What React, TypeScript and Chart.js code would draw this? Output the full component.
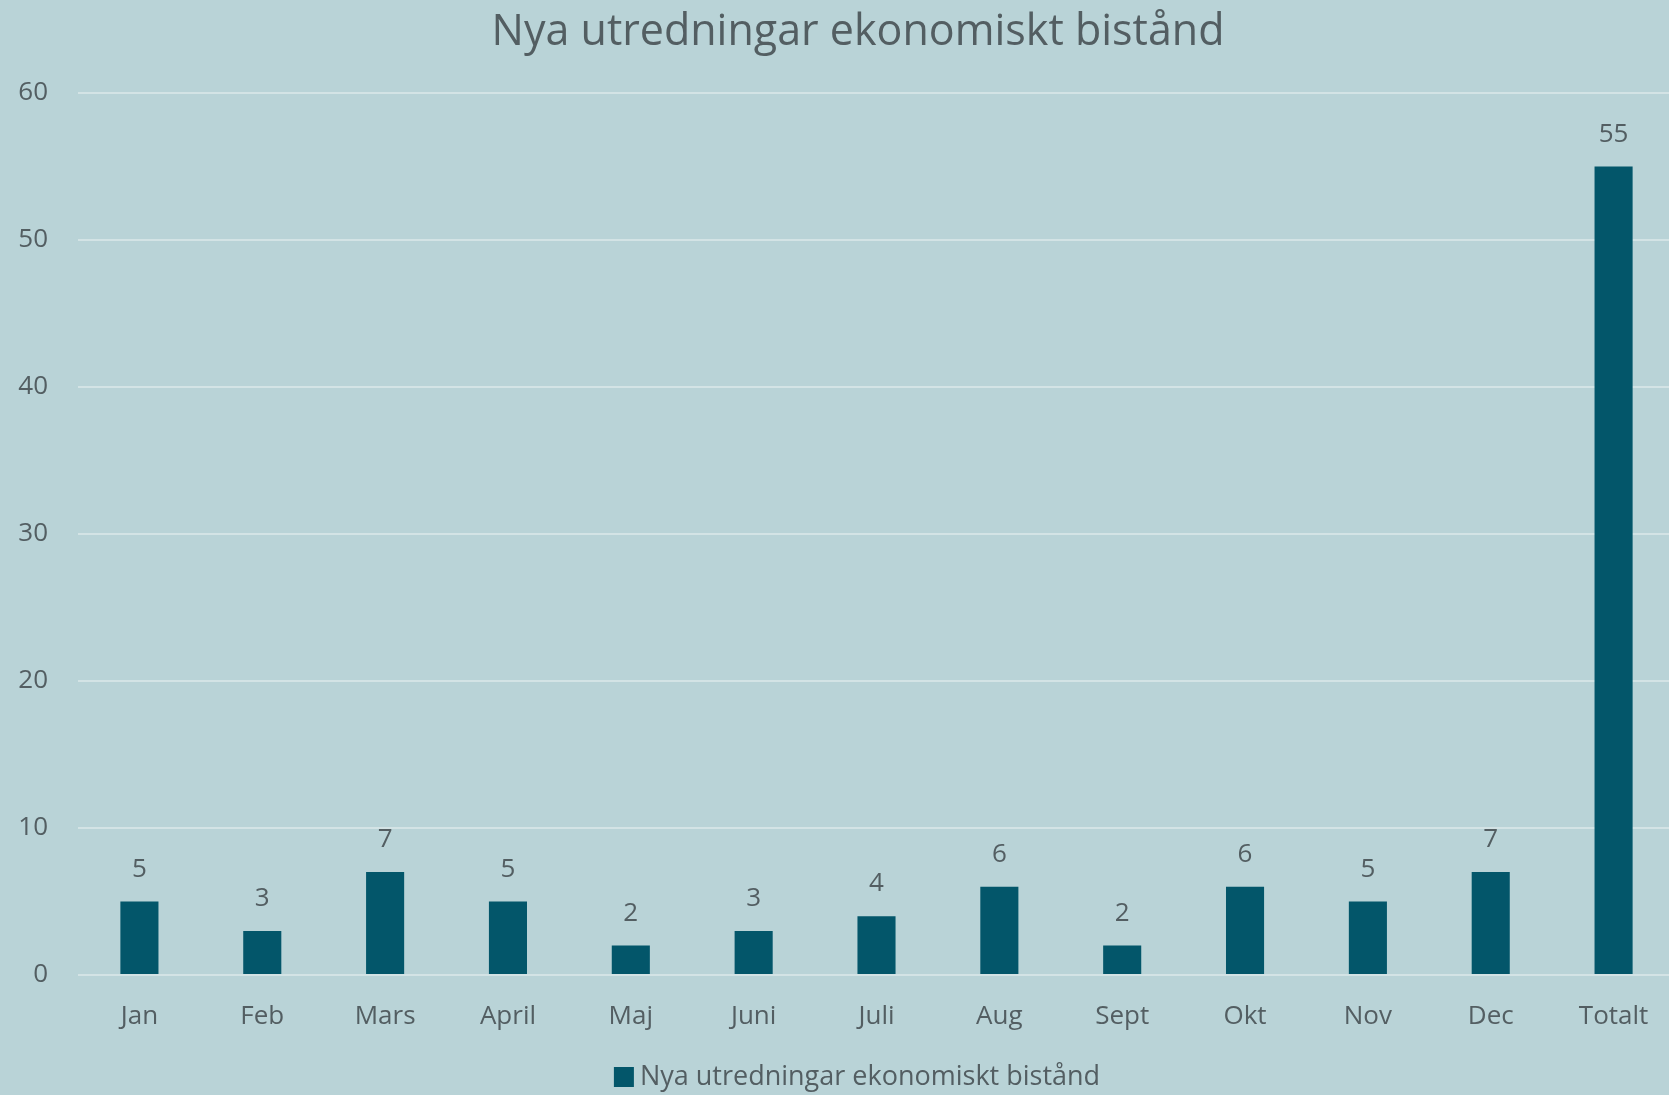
import React, { useEffect, useRef } from "react";
import { Chart, registerables } from "chart.js";

Chart.register(...registerables);

const categories = ["Jan", "Feb", "Mars", "April", "Maj", "Juni", "Juli", "Aug", "Sept", "Okt", "Nov", "Dec", "Totalt"];
const values = [5, 3, 7, 5, 2, 3, 4, 6, 2, 6, 5, 7, 55];
const seriesName = "Nya utredningar ekonomiskt bistånd";
const chartTitle = "Nya utredningar ekonomiskt bistånd";
const yMin = 0;
const yMax = 60;
const yStep = 10;

const BG = "#b9d3d7";
const BAR = "#03566a";
const TEXT = "#535e62";
const GRID = "#d3e3e5";
const FONT = "'Open Sans', Lato, sans-serif";

const CANVAS_W = 1712;
const CANVAS_H = 1095;
const CENTER_X = 857;

const valueLabels = {
  id: "valueLabels",
  afterDatasetsDraw(chart: any) {
    const ctx = chart.ctx;
    const meta = chart.getDatasetMeta(0);
    ctx.save();
    ctx.fillStyle = TEXT;
    ctx.font = `26px ${FONT}`;
    ctx.textAlign = "center";
    ctx.textBaseline = "alphabetic";
    meta.data.forEach((el: any, i: number) => {
      ctx.fillText(String(values[i]), el.x, el.y - 25);
    });
    ctx.restore();
  },
};

const titleAndLegend = {
  id: "titleAndLegend",
  afterDraw(chart: any) {
    const ctx = chart.ctx;
    ctx.save();
    // title
    ctx.fillStyle = TEXT;
    ctx.font = `43px ${FONT}`;
    ctx.textAlign = "center";
    ctx.textBaseline = "middle";
    ctx.fillText(chartTitle, CENTER_X + 1, 33);
    // legend
    ctx.font = `27px ${FONT}`;
    const tw = ctx.measureText(seriesName).width;
    const box = 20;
    const gap = 6;
    const total = box + gap + tw;
    const x0 = CENTER_X - total / 2;
    const cy = 1077;
    ctx.fillStyle = BAR;
    ctx.fillRect(x0, cy - box / 2, box, box);
    ctx.fillStyle = TEXT;
    ctx.textAlign = "left";
    ctx.fillText(seriesName, x0 + box + gap, cy);
    ctx.restore();
  },
};

const bgPlugin = {
  id: "bgFill",
  beforeDraw(chart: any) {
    const ctx = chart.ctx;
    ctx.save();
    ctx.fillStyle = BG;
    ctx.fillRect(0, 0, chart.width, chart.height);
    ctx.restore();
  },
};

export default function App() {
  const ref = useRef<HTMLCanvasElement>(null);
  useEffect(() => {
    if (!ref.current) return;
    const chart = new Chart(ref.current, {
      type: "bar",
      data: {
        labels: categories,
        datasets: [
          {
            label: seriesName,
            data: values,
            backgroundColor: BAR,
            borderWidth: 0,
            barPercentage: 0.31,
            categoryPercentage: 1,
          },
        ],
      },
      options: {
        responsive: false,
        animation: false,
        maintainAspectRatio: false,
        layout: { padding: { left: 0, right: 37, top: 93, bottom: 0 } },
        plugins: {
          title: { display: false },
          legend: { display: false },
          tooltip: { enabled: false },
        },
        scales: {
          x: {
            grid: { display: false, drawTicks: false },
            border: { display: false },
            ticks: { color: TEXT, font: { family: FONT, size: 26 }, padding: 26, maxRotation: 0 },
            afterFit(scale: any) {
              scale.height = 120;
            },
          },
          y: {
            min: yMin,
            max: yMax,
            grid: { color: GRID, lineWidth: 2, drawTicks: false },
            border: { display: false },
            ticks: { stepSize: yStep, color: TEXT, font: { family: FONT, size: 26 }, padding: 30 },
            afterFit(scale: any) {
              scale.width = 78;
            },
          },
        },
      },
      plugins: [bgPlugin, valueLabels, titleAndLegend],
    });
    return () => chart.destroy();
  }, []);
  return (
    <div style={{ position: "fixed", left: 0, top: 0, width: 1669, height: 1095, overflow: "hidden", background: BG }}>
      <canvas ref={ref} width={CANVAS_W} height={CANVAS_H} style={{ width: CANVAS_W, height: CANVAS_H, display: "block" }} />
    </div>
  );
}
